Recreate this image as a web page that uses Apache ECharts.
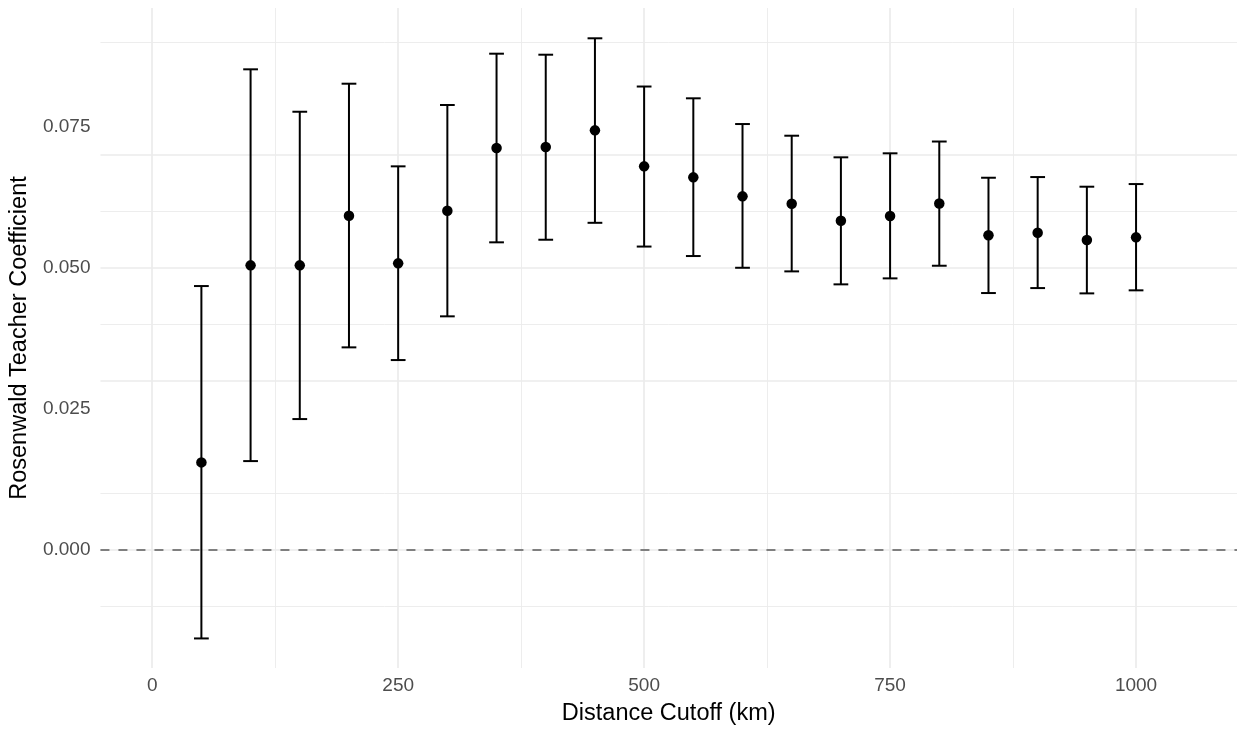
<!DOCTYPE html>
<html>
<head>
<meta charset="utf-8">
<script src="https://cdn.jsdelivr.net/npm/echarts@6/dist/echarts.min.js"></script>
<style>
html,body{margin:0;padding:0;background:#fff;}
#chart{width:1238px;height:731px;}
</style>
</head>
<body>
<div id="chart"></div>
<script>
const distances = [50,100,150,200,250,300,350,400,450,500,550,600,650,700,750,800,850,900,950,1000];
const estimates = [0.01555,0.05048,0.05048,0.05927,0.05083,0.06016,0.07128,0.07145,0.07441,0.06803,0.06608,0.06271,0.06140,0.05839,0.05922,0.06144,0.05580,0.05626,0.05496,0.05544];
const lowerCI   = [-0.01566,0.01578,0.02323,0.03594,0.03369,0.04144,0.05456,0.05502,0.05802,0.05381,0.05213,0.05005,0.04941,0.04711,0.04817,0.05041,0.04557,0.04645,0.04551,0.04605];
const upperCI   = [0.04681,0.08523,0.07771,0.08268,0.06803,0.07890,0.08800,0.08782,0.09073,0.08218,0.08009,0.07553,0.07346,0.06963,0.07034,0.07243,0.06601,0.06613,0.06442,0.06489];
const xTicks = [0,250,500,750,1000];
const xMinor = [125,375,625,875];
const yTicks = [0,0.025,0.05,0.075];
const yMinor = [-0.0125,0.0125,0.0375,0.0625,0.0875];
const refLine = 0;
const capHalf = 7.5;

const chart = echarts.init(document.getElementById('chart'), null, {renderer:'canvas'});
const gridColor = '#EBEBEB';
const font = "'Liberation Sans', Arial, Helvetica, sans-serif";

const gridLines = [];
xTicks.forEach(v => gridLines.push({xAxis: v, lineStyle:{color:gridColor, width:1.7, type:'solid'}}));
xMinor.forEach(v => gridLines.push({xAxis: v, lineStyle:{color:gridColor, width:0.9, type:'solid'}}));
yTicks.forEach(v => gridLines.push({yAxis: v, lineStyle:{color:gridColor, width:1.7, type:'solid'}}));
yMinor.forEach(v => gridLines.push({yAxis: v, lineStyle:{color:gridColor, width:0.9, type:'solid'}}));

const errData = distances.map((d,i) => [d, lowerCI[i], upperCI[i]]);
const ptData = distances.map((d,i) => [d, estimates[i]]);

const option = {
  animation: false,
  backgroundColor: '#ffffff',
  grid: {left: 100, right: 1, top: 8, bottom: 63, containLabel: false},
  xAxis: {
    type: 'value', min: -52.6, max: 1102.6,
    name: 'Distance Cutoff (km)', nameLocation: 'middle', nameGap: 34,
    nameTextStyle: {color:'#000', fontSize: 23.5, fontFamily: font},
    axisLine:{show:false}, axisTick:{show:false}, splitLine:{show:false},
    axisLabel: {customValues: xTicks, color:'#4D4D4D', fontSize: 19, fontFamily: font, margin: 8,
      formatter: v => String(v)}
  },
  yAxis: {
    type: 'value', min: -0.0209, max: 0.0961,
    name: 'Rosenwald Teacher Coefficient', nameLocation: 'middle', nameGap: 62,
    nameTextStyle: {color:'#000', fontSize: 23.5, fontFamily: font},
    axisLine:{show:false}, axisTick:{show:false}, splitLine:{show:false},
    axisLabel: {customValues: yTicks, color:'#4D4D4D', fontSize: 19, fontFamily: font, margin: 10,
      formatter: v => v.toFixed(3)}
  },
  series: [
    {
      type: 'line', data: [], silent: true, z: 1,
      markLine: {silent: true, z: 1, symbol: 'none', label:{show:false}, animation:false, data: gridLines}
    },
    {
      type: 'line', data: [], silent: true, z: 2,
      markLine: {silent: true, z: 2, symbol: 'none', label:{show:false}, animation:false,
        data: [{yAxis: refLine, lineStyle:{color:'#7F7F7F', width:2, type:[9,9]}}]}
    },
    {
      type: 'custom', z: 10, data: errData,
      renderItem: function(params, api){
        const x = api.value(0);
        const lo = api.coord([x, api.value(1)]);
        const hi = api.coord([x, api.value(2)]);
        const l = api.coord([x - capHalf, api.value(1)])[0];
        const r = api.coord([x + capHalf, api.value(1)])[0];
        const style = {stroke:'#000', lineWidth:2};
        return {type:'group', children:[
          {type:'line', shape:{x1:lo[0], y1:lo[1], x2:hi[0], y2:hi[1]}, style:style},
          {type:'line', shape:{x1:l, y1:lo[1], x2:r, y2:lo[1]}, style:style},
          {type:'line', shape:{x1:l, y1:hi[1], x2:r, y2:hi[1]}, style:style}
        ]};
      }
    },
    {
      type: 'scatter', z: 11, data: ptData, symbol: 'circle', symbolSize: 10.5,
      itemStyle: {color:'#000', opacity: 1}
    }
  ]
};
chart.setOption(option);
</script>
</body>
</html>
